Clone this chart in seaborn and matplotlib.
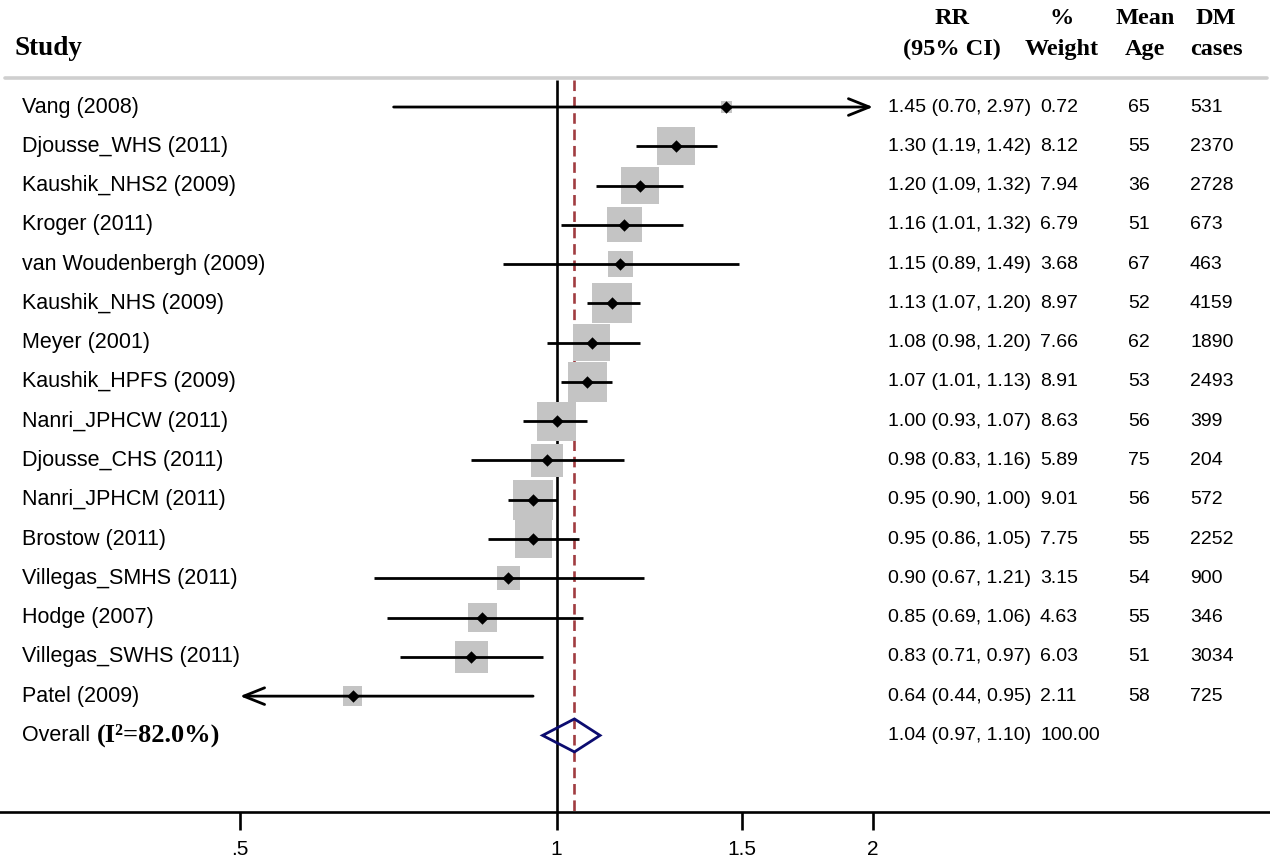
import numpy as np
import pandas as pd
import matplotlib
matplotlib.use('Agg')
import matplotlib.pyplot as plt
import matplotlib.transforms as mtransforms
from matplotlib.patches import Polygon
import seaborn as sns

# study level data
studies = ['Vang (2008)', 'Djousse_WHS (2011)', 'Kaushik_NHS2 (2009)', 'Kroger (2011)',
           'van Woudenbergh (2009)', 'Kaushik_NHS (2009)', 'Meyer (2001)', 'Kaushik_HPFS (2009)',
           'Nanri_JPHCW (2011)', 'Djousse_CHS (2011)', 'Nanri_JPHCM (2011)', 'Brostow (2011)',
           'Villegas_SMHS (2011)', 'Hodge (2007)', 'Villegas_SWHS (2011)', 'Patel (2009)']
rr = [1.45, 1.30, 1.20, 1.16, 1.15, 1.13, 1.08, 1.07, 1.00, 0.98, 0.95, 0.95, 0.90, 0.85, 0.83, 0.64]
ci_lo = [0.70, 1.19, 1.09, 1.01, 0.89, 1.07, 0.98, 1.01, 0.93, 0.83, 0.90, 0.86, 0.67, 0.69, 0.71, 0.44]
ci_hi = [2.97, 1.42, 1.32, 1.32, 1.49, 1.20, 1.20, 1.13, 1.07, 1.16, 1.00, 1.05, 1.21, 1.06, 0.97, 0.95]
weight = [0.72, 8.12, 7.94, 6.79, 3.68, 8.97, 7.66, 8.91, 8.63, 5.89, 9.01, 7.75, 3.15, 4.63, 6.03, 2.11]
age = [65, 55, 36, 51, 67, 52, 62, 53, 56, 75, 56, 55, 54, 55, 51, 58]
cases = [531, 2370, 2728, 673, 463, 4159, 1890, 2493, 399, 204, 572, 2252, 900, 346, 3034, 725]

overall_rr, overall_lo, overall_hi = 1.04, 0.97, 1.10
overall_weight = 100.00
i2 = 82.0

xticks = [0.5, 1, 1.5, 2]
xtick_labels = ['.5', '1', '1.5', '2']
clip_lo, clip_hi = 0.5, 2.0   # display range of the CI lines

df = pd.DataFrame({'study': studies, 'rr': rr, 'lo': ci_lo, 'hi': ci_hi,
                   'weight': weight, 'age': age, 'cases': cases})
df['row'] = np.arange(len(df))
overall_row = len(df)

sns.set_style('white')
plt.rcParams['font.family'] = ['Liberation Sans', 'DejaVu Sans']
plt.rcParams['text.color'] = 'black'
plt.rcParams['xtick.color'] = 'black'
plt.rcParams['xtick.labelcolor'] = 'black'

fig = plt.figure(figsize=(12.7, 8.59), dpi=100)
ax = fig.add_axes([0, 47 / 859, 1, 812 / 859])
ax.set_xscale('log')
ax.set_xlim(0.2956, 4.771)
ax.set_ylim(17.95, -2.725)

top_row = -0.69
# reference lines
ax.vlines(1, top_row, 17.95, color='black', lw=1.9, zorder=1)
ax.vlines(overall_rr, top_row, 17.95, color='#a03c40', lw=1.9, linestyles=(0, (4, 2.2)), zorder=1)

# weight boxes, area proportional to weight
wmin, wmax = df['weight'].min(), df['weight'].max()
sns.scatterplot(data=df, x='rr', y='row', size='weight', sizes=(92 * wmin, 92 * wmax),
                size_norm=(wmin, wmax), marker='s', color='#c4c4c4', linewidth=0,
                legend=False, ax=ax, zorder=2)

# confidence intervals (arrows when clipped)
arrow = dict(arrowstyle='->,head_length=1.5,head_width=0.6', lw=2.0, color='black', shrinkA=0, shrinkB=0)
for _, r in df.iterrows():
    lo = max(r['lo'], clip_lo)
    hi = min(r['hi'], clip_hi)
    if r['hi'] > clip_hi:
        ax.annotate('', xy=(hi, r['row']), xytext=(lo, r['row']), arrowprops=arrow, zorder=3)
    elif r['lo'] < clip_lo:
        ax.annotate('', xy=(lo, r['row']), xytext=(hi, r['row']), arrowprops=arrow, zorder=3)
    else:
        ax.plot([lo, hi], [r['row'], r['row']], color='black', lw=2.0, solid_capstyle='butt', zorder=3)

sns.scatterplot(data=df, x='rr', y='row', marker='D', color='black', s=40, linewidth=0,
                legend=False, ax=ax, zorder=4)

# overall diamond
dh = 0.42
ax.add_patch(Polygon([(overall_lo, overall_row), (overall_rr, overall_row - dh),
                      (overall_hi, overall_row), (overall_rr, overall_row + dh)],
                     closed=True, facecolor='none', edgecolor='#0c0c70', lw=2.0, zorder=5))

trans = mtransforms.blended_transform_factory(ax.transAxes, ax.transData)
W = 1270.0
serif = ['Liberation Serif', 'DejaVu Serif']

# header rule
ax.plot([0.004, 0.998], [top_row - 0.04, top_row - 0.04], color='#cfcfcf', lw=2.6,
        transform=trans, clip_on=False)

ax.text(15 / W, -1.50, 'Study', transform=trans, family=serif, weight='bold', fontsize=19.5, va='center')
for x, l1, l2 in [(952, 'RR', '(95% CI)'), (1062, '%', 'Weight'), (1145, 'Mean', 'Age'), (1216, 'DM', 'cases')]:
    ax.text(x / W, -2.25, l1, transform=trans, family=serif, weight='bold', fontsize=17.5, ha='center', va='center')
    ax.text(x / W, -1.46, l2, transform=trans, family=serif, weight='bold', fontsize=17.5, ha='center', va='center')

fs_lab = 15.5
fs_num = 14
for _, r in df.iterrows():
    y = r['row']
    ax.text(22 / W, y, r['study'], transform=trans, fontsize=fs_lab, va='center')
    ax.text(888 / W, y, f"{r['rr']:.2f} ({r['lo']:.2f}, {r['hi']:.2f})", transform=trans, fontsize=fs_num, va='center')
    ax.text(1040 / W, y, f"{r['weight']:.2f}", transform=trans, fontsize=fs_num, va='center')
    ax.text(1128 / W, y, f"{int(r['age'])}", transform=trans, fontsize=fs_num, va='center')
    ax.text(1190 / W, y, f"{int(r['cases'])}", transform=trans, fontsize=fs_num, va='center')

ax.text(22 / W, overall_row, 'Overall', transform=trans, fontsize=fs_lab, va='center')
ax.text(97 / W, overall_row, f'(I\u00b2={i2:.1f}%)', transform=trans, family=serif, weight='bold',
        fontsize=19, va='center')
ax.text(888 / W, overall_row, f'{overall_rr:.2f} ({overall_lo:.2f}, {overall_hi:.2f})',
        transform=trans, fontsize=fs_num, va='center')
ax.text(1040 / W, overall_row, f'{overall_weight:.2f}', transform=trans, fontsize=fs_num, va='center')

# axis styling
for s in ['top', 'left', 'right']:
    ax.spines[s].set_visible(False)
ax.spines['bottom'].set_linewidth(1.9)
ax.spines['bottom'].set_color('black')
ax.set_yticks([])
ax.set_xticks(xticks)
ax.set_xticklabels(xtick_labels)
ax.xaxis.set_minor_locator(matplotlib.ticker.NullLocator())
ax.tick_params(axis='x', direction='out', length=13, width=1.9, labelsize=15, pad=7, bottom=True)
ax.set_xlabel('')
ax.set_ylabel('')

fig.savefig('out.png', dpi=100)
